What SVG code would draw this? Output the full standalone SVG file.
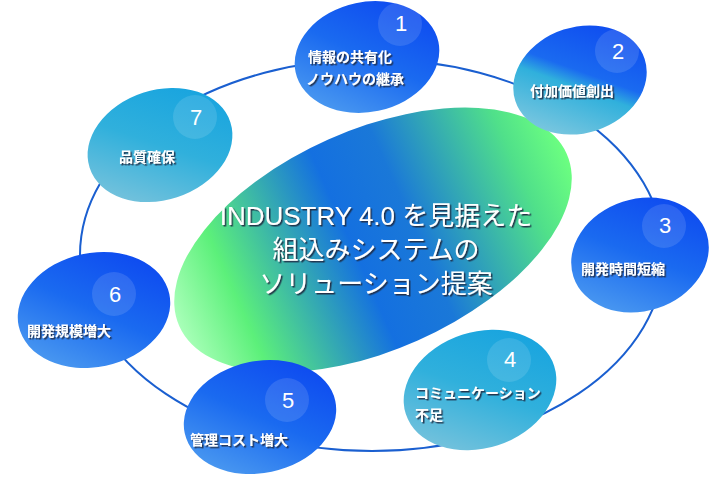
<svg xmlns="http://www.w3.org/2000/svg" width="716" height="498" viewBox="0 0 716 498">
<defs>
<linearGradient id="gc" gradientUnits="userSpaceOnUse" x1="161" y1="240" x2="585" y2="240"><stop offset="0" stop-color="#a8ffb8"/><stop offset="0.15" stop-color="#5cf07a"/><stop offset="0.45" stop-color="#1470e0"/><stop offset="0.6" stop-color="#1a78d8"/><stop offset="0.88" stop-color="#50e08a"/><stop offset="1" stop-color="#6cff80"/></linearGradient>
<linearGradient id="gb" x1="0" y1="1" x2="1" y2="0"><stop offset="0" stop-color="#5aa8f0"/><stop offset="0.5" stop-color="#1a6af0"/><stop offset="1" stop-color="#0a40f0"/></linearGradient>
<linearGradient id="gt" x1="0" y1="1" x2="1" y2="0"><stop offset="0" stop-color="#8cc8dc"/><stop offset="0.5" stop-color="#30b0dc"/><stop offset="1" stop-color="#10a0e0"/></linearGradient>
<linearGradient id="g2" x1="0" y1="1" x2="1" y2="0"><stop offset="0" stop-color="#9ad0e0"/><stop offset="0.45" stop-color="#30b0dc"/><stop offset="0.55" stop-color="#1a6af0"/><stop offset="1" stop-color="#0a40f0"/></linearGradient>
<filter id="sh" x="-10%" y="-10%" width="130%" height="130%"><feDropShadow dx="1.5" dy="1.5" stdDeviation="0.3" flood-color="#1a2a40" flood-opacity="0.9"/></filter>
</defs>
<style>
.t{font-family:"Noto Sans CJK JP","Liberation Sans",sans-serif;font-weight:bold;font-size:14px;fill:#fff;filter:url(#sh)}
.c{font-family:"Liberation Sans","Noto Sans CJK JP",sans-serif;font-size:26px;fill:#fff;filter:url(#sh);text-anchor:middle}
.n{font-family:"Liberation Sans",sans-serif;font-size:22px;fill:#fff;text-anchor:middle}
.nc{fill:#fff;fill-opacity:0.12}
</style>
<g id="connectors"><ellipse cx="372" cy="255" rx="292" ry="196" fill="none" stroke="#1a5fd0" stroke-width="2"/></g>
<g id="center"><ellipse cx="373" cy="240" rx="212" ry="110" transform="rotate(-24 373 240)" fill="url(#gc)"/>
<text class="c" x="376" y="225">INDUSTRY 4.0 を見据えた</text>
<text class="c" x="376" y="259">組込みシステムの</text>
<text class="c" x="376" y="293">ソリューション提案</text></g>
<g id="n1"><ellipse cx="367" cy="57" rx="73" ry="55" transform="rotate(-12 367 57)" fill="url(#gb)"/><circle class="nc" cx="400" cy="24" r="22"/><text class="n" x="401" y="31">1</text><text class="t" x="308" y="62">情報の共有化</text><text class="t" x="306" y="84">ノウハウの継承</text></g>
<g id="n2"><ellipse cx="580" cy="80" rx="68" ry="53" transform="rotate(-18 580 80)" fill="url(#g2)"/><circle class="nc" cx="617" cy="51" r="22"/><text class="n" x="618" y="59">2</text><text class="t" x="530" y="96">付加価値創出</text></g>
<g id="n3"><ellipse cx="640" cy="255" rx="70" ry="56" transform="rotate(-18 640 255)" fill="url(#gb)"/><circle class="nc" cx="664" cy="226" r="22"/><text class="n" x="665" y="233">3</text><text class="t" x="581" y="274">開発時間短縮</text></g>
<g id="n4"><ellipse cx="480" cy="390" rx="78" ry="58" transform="rotate(-18 480 390)" fill="url(#gt)"/><circle class="nc" cx="509" cy="360" r="22"/><text class="n" x="510" y="367">4</text><text class="t" x="415" y="398">コミュニケーション</text><text class="t" x="415" y="420">不足</text></g>
<g id="n5"><ellipse cx="260" cy="417" rx="77" ry="56" transform="rotate(-12 260 417)" fill="url(#gb)"/><circle class="nc" cx="287" cy="400" r="22"/><text class="n" x="288" y="408">5</text><text class="t" x="190" y="445">管理コスト増大</text></g>
<g id="n6"><ellipse cx="94" cy="310" rx="77" ry="57" transform="rotate(-12 94 310)" fill="url(#gb)"/><circle class="nc" cx="114" cy="294" r="22"/><text class="n" x="115" y="302">6</text><text class="t" x="27" y="336">開発規模増大</text></g>
<g id="n7"><ellipse cx="160" cy="145" rx="74" ry="55" transform="rotate(-18 160 145)" fill="url(#gt)"/><circle class="nc" cx="195" cy="117" r="22"/><text class="n" x="196" y="125">7</text><text class="t" x="119" y="162">品質確保</text></g>
</svg>
